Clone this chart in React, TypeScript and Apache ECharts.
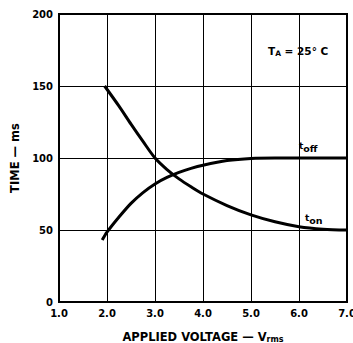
import React, { useEffect, useRef } from "react";
import * as echarts from "echarts";

const xTicks = [1, 2, 3, 4, 5, 6, 7];
const yTicks = [0, 50, 100, 150, 200];
const tOn: [number, number][] = [
  [1.95, 150], [2.25, 136], [2.5, 123.5], [2.75, 111.5], [3.0, 100], [3.25, 92], [3.5, 85.5],
  [3.75, 80], [4.0, 75], [4.5, 67], [5.0, 60.5], [5.5, 55.7], [6.0, 52.3], [6.5, 50.6], [7.0, 50],
];
const tOff: [number, number][] = [
  [1.9, 43], [2.0, 48.5], [2.25, 59], [2.5, 68.5], [2.75, 76], [3.0, 82], [3.25, 86.5], [3.5, 90],
  [3.75, 92.8], [4.0, 95], [4.5, 98.2], [5.0, 99.7], [5.5, 100], [6.0, 100], [7.0, 100],
];

const FONT = "'DejaVu Sans', sans-serif";

export default function App() {
  const ref = useRef<HTMLDivElement>(null);
  useEffect(() => {
    const chart = echarts.init(ref.current!, null, { renderer: "svg" });
    const lbl = { color: "#000", fontWeight: "bold" as const, fontFamily: FONT, fontSize: 10 };
    const nameLbl = { ...lbl, fontSize: 11.5 };
    chart.setOption({
      animation: false,
      backgroundColor: "#fff",
      grid: {
        left: 59, right: 6, top: 14, bottom: 41, show: true, borderColor: "#000", borderWidth: 2,
        outerBoundsMode: "none", containLabel: false,
      },
      xAxis: {
        type: "value", min: xTicks[0], max: xTicks[xTicks.length - 1], interval: 1,
        axisLine: { lineStyle: { color: "#000", width: 2 } },
        axisTick: { show: false },
        axisLabel: { ...lbl, margin: 6, formatter: (v: number) => v.toFixed(1) },
        splitLine: { lineStyle: { color: "#000", width: 1 } },
        name: "APPLIED VOLTAGE — V{s|rms}",
        nameLocation: "middle", nameGap: 28,
        nameTextStyle: { ...nameLbl, rich: { s: { ...lbl, fontSize: 8, padding: [5, 0, 0, 0] } } },
      },
      yAxis: {
        type: "value", min: yTicks[0], max: yTicks[yTicks.length - 1], interval: 50,
        axisLine: { show: true, lineStyle: { color: "#000", width: 2 } },
        axisTick: { show: false },
        axisLabel: { ...lbl, margin: 6 },
        splitLine: { lineStyle: { color: "#000", width: 1 } },
        name: "TIME — ms",
        nameLocation: "middle", nameGap: 35, nameRotate: 90,
        nameTextStyle: { ...nameLbl },
      },
      series: [
        { type: "line", data: tOn, smooth: 0.3, showSymbol: false, lineStyle: { color: "#000", width: 3 } },
        { type: "line", data: tOff, smooth: 0.3, showSymbol: false, lineStyle: { color: "#000", width: 3 } },
      ],
      graphic: [
        {
          type: "text", left: 268, top: 45,
          style: {
            text: "T{s|A} = 25° C", fill: "#000", font: `bold 10.5px ${FONT}`,
            rich: { s: { fontSize: 7.5, fontWeight: "bold", fontFamily: FONT, fill: "#000", padding: [5, 0, 0, 0] } },
          },
        },
        {
          type: "text", left: 299, top: 141,
          style: {
            text: "t{s|off}", fill: "#000", font: `bold 9px ${FONT}`,
            rich: { s: { fontSize: 9.5, fontWeight: "bold", fontFamily: FONT, fill: "#000", padding: [5, 0, 0, 0] } },
          },
        },
        {
          type: "text", left: 305, top: 213,
          style: {
            text: "t{s|on}", fill: "#000", font: `bold 9px ${FONT}`,
            rich: { s: { fontSize: 9.5, fontWeight: "bold", fontFamily: FONT, fill: "#000", padding: [5, 0, 0, 0] } },
          },
        },
      ],
    });
    return () => chart.dispose();
  }, []);
  return <div ref={ref} style={{ position: "fixed", left: 0, top: 0, width: 353, height: 343 }} />;
}
